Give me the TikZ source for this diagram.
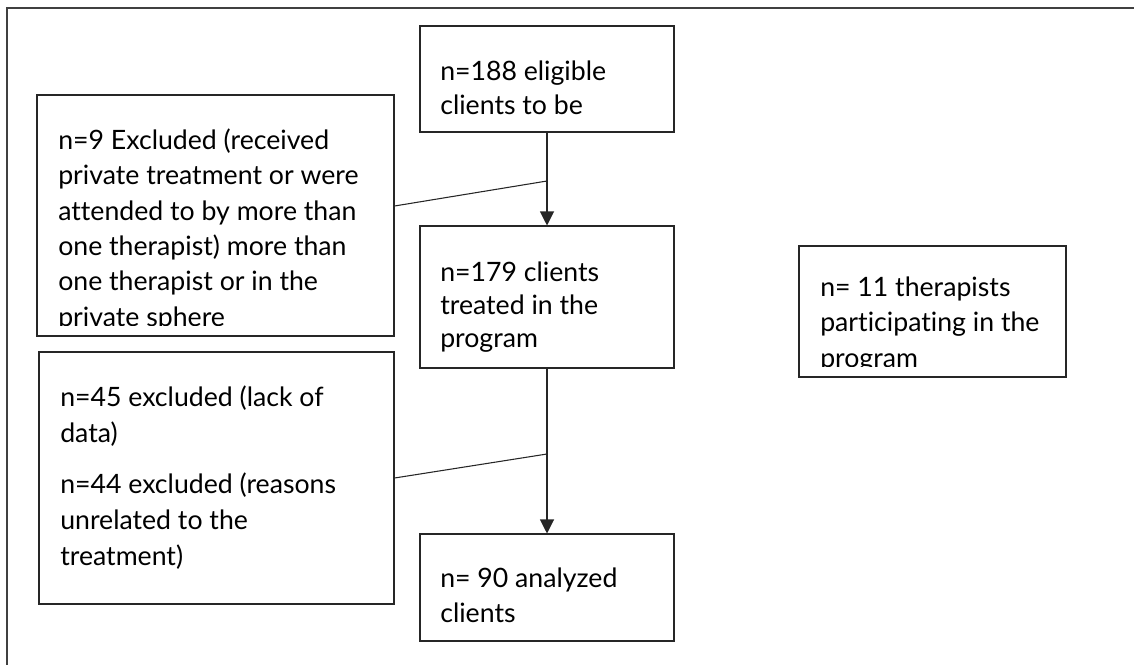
\documentclass[tikz,border=0pt]{standalone}
\usepackage{fontspec}
\setmainfont{Lato}[Ligatures={NoCommon}]
\usetikzlibrary{arrows.meta,fit}
\tikzset{
  box/.style={draw=black!85, line width=0.8pt, inner sep=0pt, fill=none},
  txt/.style={inner sep=0pt, anchor=base west, text=black},
  conn/.style={draw=black!85, line width=0.8pt},
  arr/.style={conn, -{Triangle[length=10.5pt,width=10.5pt]}},
  frame/.style={draw=black!75, line width=1.5pt}
}
\newcommand{\bx}[3]{\parbox[t]{#1}{\fontsize{20}{#2}\selectfont #3}}
\begin{document}
\begin{tikzpicture}[x=0.75pt,y=-0.75pt]
\useasboundingbox (0,0) rectangle (1134,665);
% outer frame (top and left edges)
\coordinate (fTL) at (7,8);
\coordinate (fTR) at (1134,8);
\coordinate (fBL) at (7,665);
\draw[frame] (fTR) -- (fTL) -- (fBL);
% boxes
\node[box, fit={(420,26) (674,132)}] (b1) {};
\node[box, fit={(37,95) (394,336)}] (e1) {};
\node[box, fit={(420,226) (674,368)}] (b2) {};
\node[box, fit={(39,352) (394,604)}] (e2) {};
\node[box, fit={(420,534) (674,641)}] (b3) {};
\node[box, fit={(799,246) (1066,377)}] (th) {};
% texts
\node[txt] (tb1) at (440,80.7) {\bx{240pt}{25pt}{n=188 eligible\\clients to be}};
\node[txt] (tb2) at (440,281) {\bx{240pt}{25pt}{n=179 clients\\treated in the\\program}};
\node[txt] (tb3) at (440,587.7) {\bx{240pt}{26pt}{n= 90 analyzed\\clients}};
\begin{scope}
  \clip (37,95) rectangle (394,325);
  \node[txt] (te1) at (58,149.5) {\bx{300pt}{26.5pt}{n=9 Excluded (received\\private treatment or were\\attended to by more than\\one therapist) more than\\one therapist or in the\\private sphere}};
\end{scope}
\node[txt] (te2) at (60,406) {\bx{300pt}{27pt}{n=45 excluded (lack of\\data)\\[11.6pt]n=44 excluded (reasons\\unrelated to the\\treatment)}};
\begin{scope}
  \clip (799,246) rectangle (1066,366.5);
  \node[txt] (tth) at (820,296) {\bx{240pt}{26.7pt}{n= 11 therapists\\participating in the\\program}};
\end{scope}
% connectors
\coordinate (j1) at (547,181);
\coordinate (j2) at (547,454);
\draw[arr] (b1.south) -- (b2.north);
\draw[arr] (b2.south) -- (b3.north);
\draw[conn] (e1.east) ++(0,-9.5) -- (j1);
\draw[conn] (e2.east) -- (j2);
\end{tikzpicture}
\end{document}
